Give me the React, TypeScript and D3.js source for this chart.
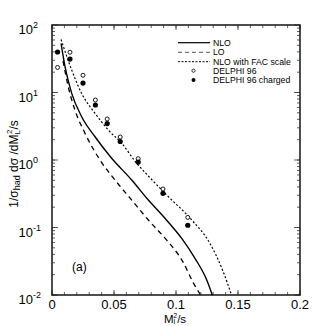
import * as d3 from 'd3';
import React from 'react';

// curves
const nloX = [0.0073, 0.0105, 0.0159, 0.0239, 0.0347, 0.0481, 0.0643, 0.0777, 0.0911, 0.1046, 0.1153, 0.1248, 0.1293];
const nloY = [53.6, 24.1, 9.7, 4.38, 2.21, 1.06, 0.506, 0.255, 0.137, 0.069, 0.035, 0.0167, 0.01];

const loX = [0.0089, 0.0131, 0.0185, 0.0266, 0.0387, 0.0508, 0.0643, 0.0777, 0.0925, 0.1056, 0.114, 0.1198];
const loY = [29.3, 12.2, 5.5, 2.49, 1.0, 0.506, 0.255, 0.129, 0.065, 0.031, 0.0151, 0.01];

const facX = [0.0073, 0.0159, 0.0239, 0.0347, 0.0454, 0.0562, 0.0683, 0.0777, 0.0925, 0.1127, 0.1274, 0.1375, 0.1448];
const facY = [61, 21.5, 9.7, 4.92, 2.78, 1.77, 0.893, 0.58, 0.303, 0.129, 0.058, 0.0235, 0.01];

// DELPHI points
const dataX = [0.0045, 0.0145, 0.025, 0.035, 0.0445, 0.055, 0.0695, 0.0895, 0.1095];
const delphiAll = [23.5, 39.5, 18.0, 7.74, 4.05, 2.19, 1.045, 0.372, 0.141];
const delphiCharged = [39.8, 31.3, 13.8, 6.53, 3.47, 1.88, 0.933, 0.321, 0.108];

const xTicks = [0, 0.05, 0.1, 0.15, 0.2];
const xTickLabels = ['0', '0.05', '0.1', '0.15', '0.2'];
const yExps = [-2, -1, 0, 1, 2];

const legendItems = ['NLO', 'LO', 'NLO with FAC scale', 'DELPHI 96', 'DELPHI 96 charged'];

const W = 327;
const H = 326;
const m = { left: 52, right: 27, top: 25, bottom: 31 };

const font = 'Liberation Sans, Arial, Helvetica, sans-serif';

export default function App() {
  const x = d3.scaleLinear().domain([0, 0.2]).range([m.left, W - m.right]);
  const y = d3.scaleLog().domain([0.01, 100]).range([H - m.bottom, m.top]);

  const line = d3
    .line<[number, number]>()
    .x((d) => x(d[0]))
    .y((d) => y(d[1]))
    .curve(d3.curveMonotoneX);

  const zip = (a: number[], b: number[]) => a.map((v, i) => [v, b[i]] as [number, number]);

  const minorX = d3.range(0, 0.2001, 0.01);
  const minorY: number[] = [];
  for (let e = -2; e < 2; e++) {
    for (let k = 1; k < 10; k++) minorY.push(k * Math.pow(10, e));
  }

  const x0 = m.left;
  const x1 = W - m.right;
  const y0 = H - m.bottom;
  const y1 = m.top;

  const legX = 178;
  const legRows = [42.7, 52.3, 61.7, 70.7, 80];

  return (
    <svg width={W} height={H} style={{ position: 'absolute', left: 0, top: 0, background: '#fff' }}>
      <defs>
        <clipPath id="plot">
          <rect x={x0} y={y1} width={x1 - x0} height={y0 - y1} />
        </clipPath>
      </defs>

      {/* minor ticks */}
      {minorX.map((v, i) => (
        <g key={'mx' + i} stroke="#333" strokeWidth={0.8}>
          <line x1={x(v)} x2={x(v)} y1={y0} y2={y0 - 3} />
          <line x1={x(v)} x2={x(v)} y1={y1} y2={y1 + 3} />
        </g>
      ))}
      {xTicks.map((v, i) => (
        <g key={'Mx' + i} stroke="#333" strokeWidth={0.8}>
          <line x1={x(v)} x2={x(v)} y1={y0} y2={y0 - 5} />
          <line x1={x(v)} x2={x(v)} y1={y1} y2={y1 + 5} />
        </g>
      ))}
      {minorY.map((v, i) => (
        <g key={'my' + i} stroke="#333" strokeWidth={0.8}>
          <line x1={x0} x2={x0 + 3} y1={y(v)} y2={y(v)} />
          <line x1={x1} x2={x1 - 3} y1={y(v)} y2={y(v)} />
        </g>
      ))}
      {yExps.map((e) => (
        <g key={'My' + e} stroke="#333" strokeWidth={0.8}>
          <line x1={x0} x2={x0 + 6} y1={y(Math.pow(10, e))} y2={y(Math.pow(10, e))} />
          <line x1={x1} x2={x1 - 6} y1={y(Math.pow(10, e))} y2={y(Math.pow(10, e))} />
        </g>
      ))}

      {/* frame */}
      <rect x={x0} y={y1} width={x1 - x0} height={y0 - y1} fill="none" stroke="#222" strokeWidth={1.6} />

      {/* tick labels */}
      {xTicks.map((v, i) => (
        <text key={'xl' + i} x={x(v)} y={y0 + 14} textAnchor="middle" fontFamily={font} fontSize={13}>
          {xTickLabels[i]}
        </text>
      ))}
      {yExps.map((e) => (
        <text key={'yl' + e} x={x0 - 19} y={y(Math.pow(10, e)) + 9} textAnchor="end" fontFamily={font} fontSize={13}>
          10
          <tspan x={x0 - 19} dy={-6} textAnchor="start" fontSize={9}>
            {e}
          </tspan>
        </text>
      ))}

      {/* curves */}
      <g clipPath="url(#plot)" fill="none" stroke="#000">
        <path d={line(zip(nloX, nloY)) || ''} strokeWidth={1.4} />
        <path d={line(zip(loX, loY)) || ''} strokeWidth={1.3} strokeDasharray="5,4" />
        <path d={line(zip(facX, facY)) || ''} strokeWidth={1.2} strokeDasharray="2,2" />
      </g>

      {/* data */}
      {dataX.map((v, i) => (
        <circle key={'o' + i} cx={x(v)} cy={y(delphiAll[i])} r={2} fill="#fff" stroke="#000" strokeWidth={0.9} />
      ))}
      {dataX.map((v, i) => (
        <circle key={'c' + i} cx={x(v)} cy={y(delphiCharged[i])} r={2.6} fill="#000" />
      ))}

      {/* legend */}
      <g fontFamily={font} fontSize={8.7}>
        <line x1={legX} x2={legX + 32} y1={legRows[0]} y2={legRows[0]} stroke="#000" strokeWidth={1.2} />
        <line x1={legX} x2={legX + 32} y1={legRows[1]} y2={legRows[1]} stroke="#777" strokeWidth={1.2} strokeDasharray="4,3" />
        <line x1={legX} x2={legX + 32} y1={legRows[2]} y2={legRows[2]} stroke="#000" strokeWidth={1} strokeDasharray="2,1.5" />
        <circle cx={legX + 15.5} cy={legRows[3]} r={1.6} fill="#fff" stroke="#000" strokeWidth={0.8} />
        <circle cx={legX + 15.5} cy={legRows[4]} r={2} fill="#000" />
        {legendItems.map((t, i) => (
          <text key={t} x={legX + 35} y={legRows[i] + 3} fill="#000">
            {t}
          </text>
        ))}
      </g>

      <text x={72} y={271} fontFamily={font} fontSize={12}>
        (a)
      </text>

      {/* axis titles */}
      <text x={164} y={322.5} fontFamily={font} fontSize={11.5}>
        M
        <tspan dy={1.5} fontSize={7.5}>l</tspan>
        <tspan dx={-2} dy={-6.5} fontSize={7}>2</tspan>
        <tspan dy={5}>/s</tspan>
      </text>
      <text transform={`translate(18,${164}) rotate(-90)`} textAnchor="middle" fontFamily={font} fontSize={12}>
        1/σ
        <tspan dy={2} fontSize={9}>had</tspan>
        <tspan dy={-2}> dσ /dM</tspan>
        <tspan dy={2} fontSize={8}>L</tspan>
        <tspan dx={-4} dy={-8} fontSize={8}>2</tspan>
        <tspan dy={6}>/s</tspan>
      </text>
    </svg>
  );
}
